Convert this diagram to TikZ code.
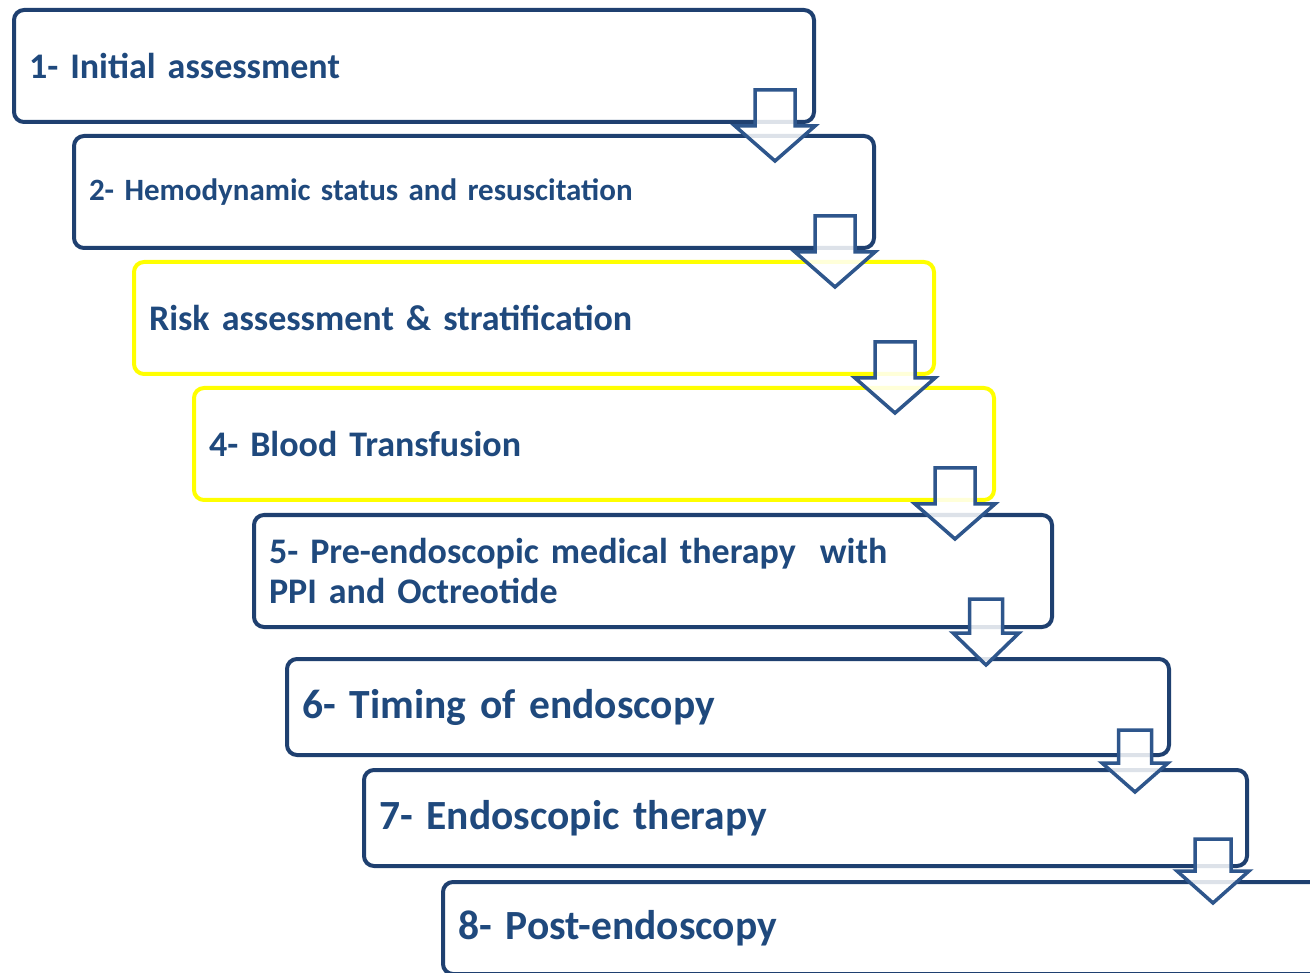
\documentclass[tikz,border=0pt]{standalone}
\usepackage{fontspec}
\setmainfont{Carlito}
\definecolor{boxblue}{RGB}{31,64,112}
\definecolor{txtblue}{RGB}{31,73,125}
\definecolor{arrblue}{RGB}{46,86,140}
\definecolor{hlyellow}{RGB}{255,255,0}
\tikzset{
  stepbox/.style={draw=boxblue, line width=4pt, rounded corners=10pt, fill=white,
    inner xsep=15pt, inner ysep=0pt, align=left, text=txtblue,
    font=\bfseries, anchor=north west},
  yelbox/.style={stepbox, draw=hlyellow},
  blockarr/.style={draw=arrblue, line width=3.5pt, fill=white, fill opacity=0.85, line join=miter}
}
\begin{document}
\begin{tikzpicture}[x=1pt,y=-1pt]
\useasboundingbox (0,0) rectangle (1310,973);
\clip (0,0) rectangle (1310,973);
\node[stepbox, minimum width=800pt, minimum height=112pt, text width=770pt, font=\bfseries\fontsize{36}{42}\selectfont] (b1) at (12,8) {1- Initial assessment};
\node[stepbox, minimum width=800pt, minimum height=112pt, text width=770pt, font=\bfseries\fontsize{31}{36}\selectfont] (b2) at (72,134) {2- Hemodynamic status and resuscitation};
\node[yelbox, minimum width=800pt, minimum height=112pt, text width=770pt, font=\bfseries\fontsize{36}{42}\selectfont] (b3) at (132,260) {Risk assessment \& stratification};
\node[yelbox, minimum width=800pt, minimum height=112pt, text width=770pt, font=\bfseries\fontsize{36}{42}\selectfont] (b4) at (192,386) {4- Blood Transfusion};
\node[stepbox, minimum width=798pt, minimum height=112pt, text width=768pt, font=\bfseries\fontsize{36}{40}\selectfont] (b5) at (252,513) {5- Pre-endoscopic medical therapy~ with\\PPI and Octreotide};
\node[stepbox, minimum width=882pt, minimum height=96pt, text width=852pt, font=\bfseries\fontsize{41.5}{48}\selectfont] (b6) at (285,657) {6- Timing of endoscopy};
\node[stepbox, minimum width=883pt, minimum height=96pt, text width=853pt, font=\bfseries\fontsize{41.5}{48}\selectfont] (b7) at (362,768) {7- Endoscopic therapy};
\node[stepbox, minimum width=900pt, minimum height=92pt, text width=870pt, font=\bfseries\fontsize{41.5}{48}\selectfont] (b8) at (441,880) {8- Post-endoscopy};
% block arrows: cx, top, shaft width, total height, head height
\newcommand\barrow[5]{\path[blockarr] (#1-#3/2,#2) -- (#1+#3/2,#2) -- (#1+#3/2,#2+#4-#5) -- (#1+#3,#2+#4-#5)
    -- (#1,#2+#4) -- (#1-#3,#2+#4-#5) -- (#1-#3/2,#2+#4-#5) -- cycle;}
\barrow{775}{90}{40}{71}{35}
\barrow{835}{216}{40}{71}{35}
\barrow{895}{342}{40}{71}{35}
\barrow{955}{468}{40}{71}{35}
\barrow{986}{599}{33}{66}{32}
\barrow{1135}{730}{33}{62}{29}
\barrow{1213}{839}{36}{64}{32}
\end{tikzpicture}
\end{document}
